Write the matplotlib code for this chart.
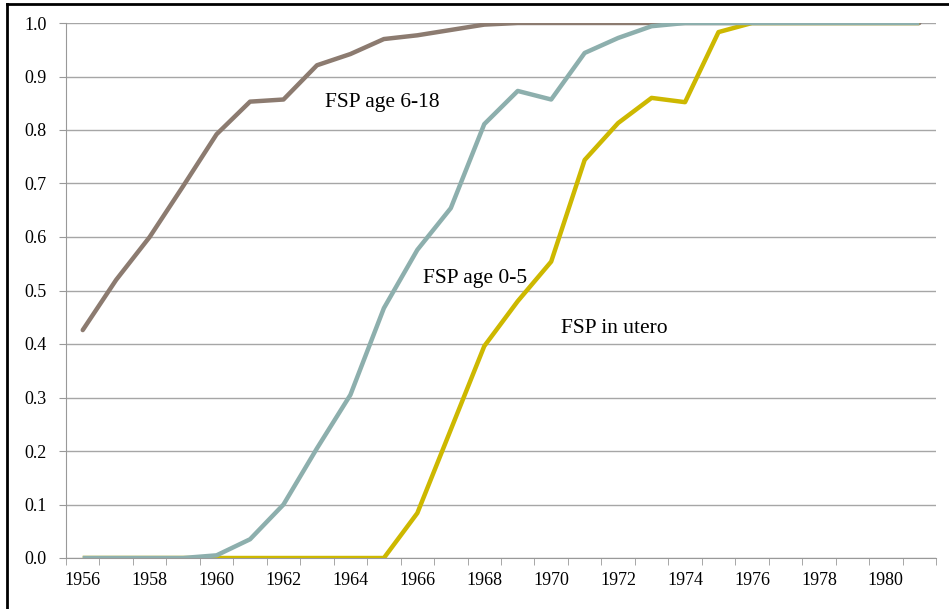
import numpy as np
import matplotlib.pyplot as plt
from matplotlib.lines import Line2D

years = list(range(1956, 1982))
fsp_6_18 = [0.426, 0.52, 0.60, 0.695, 0.792, 0.853, 0.857, 0.921, 0.942, 0.970,
            0.977, 0.987, 0.997, 1.0, 1.0, 1.0, 1.0, 1.0, 1.0, 1.0,
            1.0, 1.0, 1.0, 1.0, 1.0, 1.0]
fsp_0_5 = [0.0, 0.0, 0.0, 0.0, 0.005, 0.035, 0.10, 0.205, 0.305, 0.467,
           0.576, 0.654, 0.811, 0.873, 0.857, 0.944, 0.972, 0.994, 1.0, 1.0,
           1.0, 1.0, 1.0, 1.0, 1.0, 1.0]
fsp_utero = [0.0, 0.0, 0.0, 0.0, 0.0, 0.0, 0.0, 0.0, 0.0, 0.0,
             0.084, 0.24, 0.396, 0.48, 0.554, 0.744, 0.813, 0.86, 0.852, 0.983,
             1.0, 1.0, 1.0, 1.0, 1.0, 1.0]

plt.rcParams['font.family'] = ['Liberation Serif', 'DejaVu Serif']

fig = plt.figure(figsize=(9.49, 6.09), dpi=100)
ax = fig.add_axes([66/949, 1 - 558/609, 870/949, 535/609])

x = np.arange(len(years))
ax.plot(x, fsp_6_18, color='#8C7B70', lw=3.2, zorder=3, solid_capstyle='round')
ax.plot(x, fsp_utero, color='#CDB800', lw=3.2, zorder=3, solid_capstyle='butt')
ax.plot(x, fsp_0_5, color='#8DAFAD', lw=3.2, zorder=4, solid_capstyle='butt')

ax.set_xlim(-0.5, len(years) - 0.5)
ax.set_ylim(0, 1.0)
ax.set_yticks(np.arange(0, 1.01, 0.1))
ax.set_yticklabels([f"{v:.1f}" for v in np.arange(0, 1.01, 0.1)])
ax.set_xticks(x[::2])
ax.set_xticklabels([str(y) for y in years[::2]])
ax.set_xticks(np.arange(-0.5, len(years), 1), minor=True)
ax.tick_params(axis='x', which='major', length=0, pad=10, labelsize=13)
ax.tick_params(axis='x', which='minor', length=5, color='#999999')
ax.tick_params(axis='y', length=5, color='#999999', labelsize=13, pad=9)
ax.grid(axis='y', color='#a6a6a6', lw=1)
ax.set_axisbelow(True)
for s in ['top', 'right']:
    ax.spines[s].set_visible(False)
for s in ['left', 'bottom']:
    ax.spines[s].set_color('#999999')

ax.text(7.23, 0.843, 'FSP age 6-18', fontsize=15.5)
ax.text(10.16, 0.514, 'FSP age 0-5', fontsize=15.5)
ax.text(14.3, 0.42, 'FSP in utero', fontsize=15.5)

fig.add_artist(Line2D([7/949, 1], [1 - 4/609, 1 - 4/609], color='black', lw=2))
fig.add_artist(Line2D([7/949, 7/949], [0, 1 - 4/609], color='black', lw=2))

fig.savefig('out.png', dpi=100)
